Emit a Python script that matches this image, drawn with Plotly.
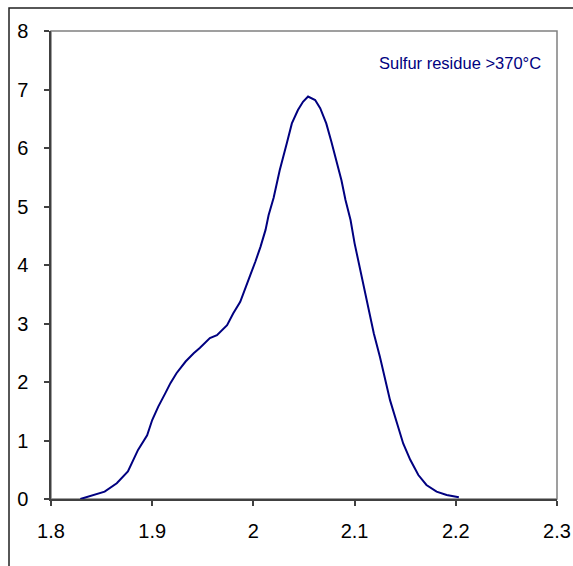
import plotly.graph_objects as go

# Sulfur distribution curve for the >370°C residue
x_vals = [1.829, 1.842, 1.853, 1.865, 1.876, 1.886, 1.895, 1.900, 1.906, 1.913,
          1.918, 1.924, 1.933, 1.941, 1.947, 1.957, 1.964, 1.974, 1.980, 1.987,
          1.993, 1.997, 2.002, 2.007, 2.012, 2.015, 2.020, 2.026, 2.033, 2.038,
          2.044, 2.049, 2.054, 2.061, 2.066, 2.072, 2.077, 2.082, 2.087, 2.091,
          2.096, 2.100, 2.105, 2.109, 2.114, 2.119, 2.125, 2.128, 2.135, 2.142,
          2.148, 2.155, 2.163, 2.171, 2.181, 2.191, 2.203]
y_vals = [0.00, 0.07, 0.125, 0.27, 0.47, 0.84, 1.09, 1.35, 1.58, 1.81,
          1.98, 2.15, 2.35, 2.49, 2.58, 2.75, 2.80, 2.97, 3.17, 3.37,
          3.63, 3.83, 4.06, 4.31, 4.60, 4.85, 5.15, 5.62, 6.08, 6.42,
          6.65, 6.79, 6.88, 6.82, 6.68, 6.42, 6.11, 5.79, 5.45, 5.11,
          4.77, 4.37, 3.97, 3.63, 3.23, 2.83, 2.43, 2.21, 1.69, 1.29,
          0.95, 0.67, 0.41, 0.24, 0.125, 0.07, 0.03]

x_ticks = [1.8, 1.9, 2.0, 2.1, 2.2, 2.3]
x_tick_text = ["1.8", "1.9", "2", "2.1", "2.2", "2.3"]
y_ticks = [0, 1, 2, 3, 4, 5, 6, 7, 8]
label_text = "Sulfur residue >370°C"

navy = "#000080"
font_family = "Arial, Liberation Sans, sans-serif"

fig = go.Figure()
fig.add_trace(go.Scatter(x=x_vals, y=y_vals, mode="lines",
                         line=dict(color=navy, width=2), showlegend=False))

fig.update_layout(
    width=573, height=566,
    margin=dict(l=51, r=16, t=31, b=67),
    paper_bgcolor="white", plot_bgcolor="white",
    font=dict(family=font_family, size=20, color="black"),
    shapes=[
        # outer frame
        dict(type="rect", xref="paper", yref="paper",
             x0=-0.083, x1=1.3, y0=-0.3, y1=1.049,
             line=dict(color="#202020", width=1.5), layer="below"),
        # plot area border
        dict(type="rect", xref="paper", yref="paper",
             x0=0, x1=1, y0=0, y1=1,
             line=dict(color="#808080", width=1.5), layer="below"),
    ],
    annotations=[dict(x=2.286, y=7.45, xref="x", yref="y", text=label_text,
                      showarrow=False, xanchor="right", yanchor="middle",
                      font=dict(family=font_family, size=16.5, color=navy))],
)
fig.update_xaxes(range=[1.8, 2.3], tickvals=x_ticks, ticktext=x_tick_text,
                 showgrid=False, zeroline=False, showline=True, automargin=False,
                 linecolor="#404040", linewidth=1.5,
                 ticks="outside", ticklen=5, tickcolor="#404040", tickwidth=1.5,
                 ticklabelstandoff=8)
fig.update_yaxes(range=[0, 8], tickvals=y_ticks,
                 showgrid=False, zeroline=False, showline=True, automargin=False,
                 linecolor="#404040", linewidth=1.5,
                 ticks="outside", ticklen=5, tickcolor="#404040", tickwidth=1.5,
                 ticklabelstandoff=12)

fig.write_html("out.html")
